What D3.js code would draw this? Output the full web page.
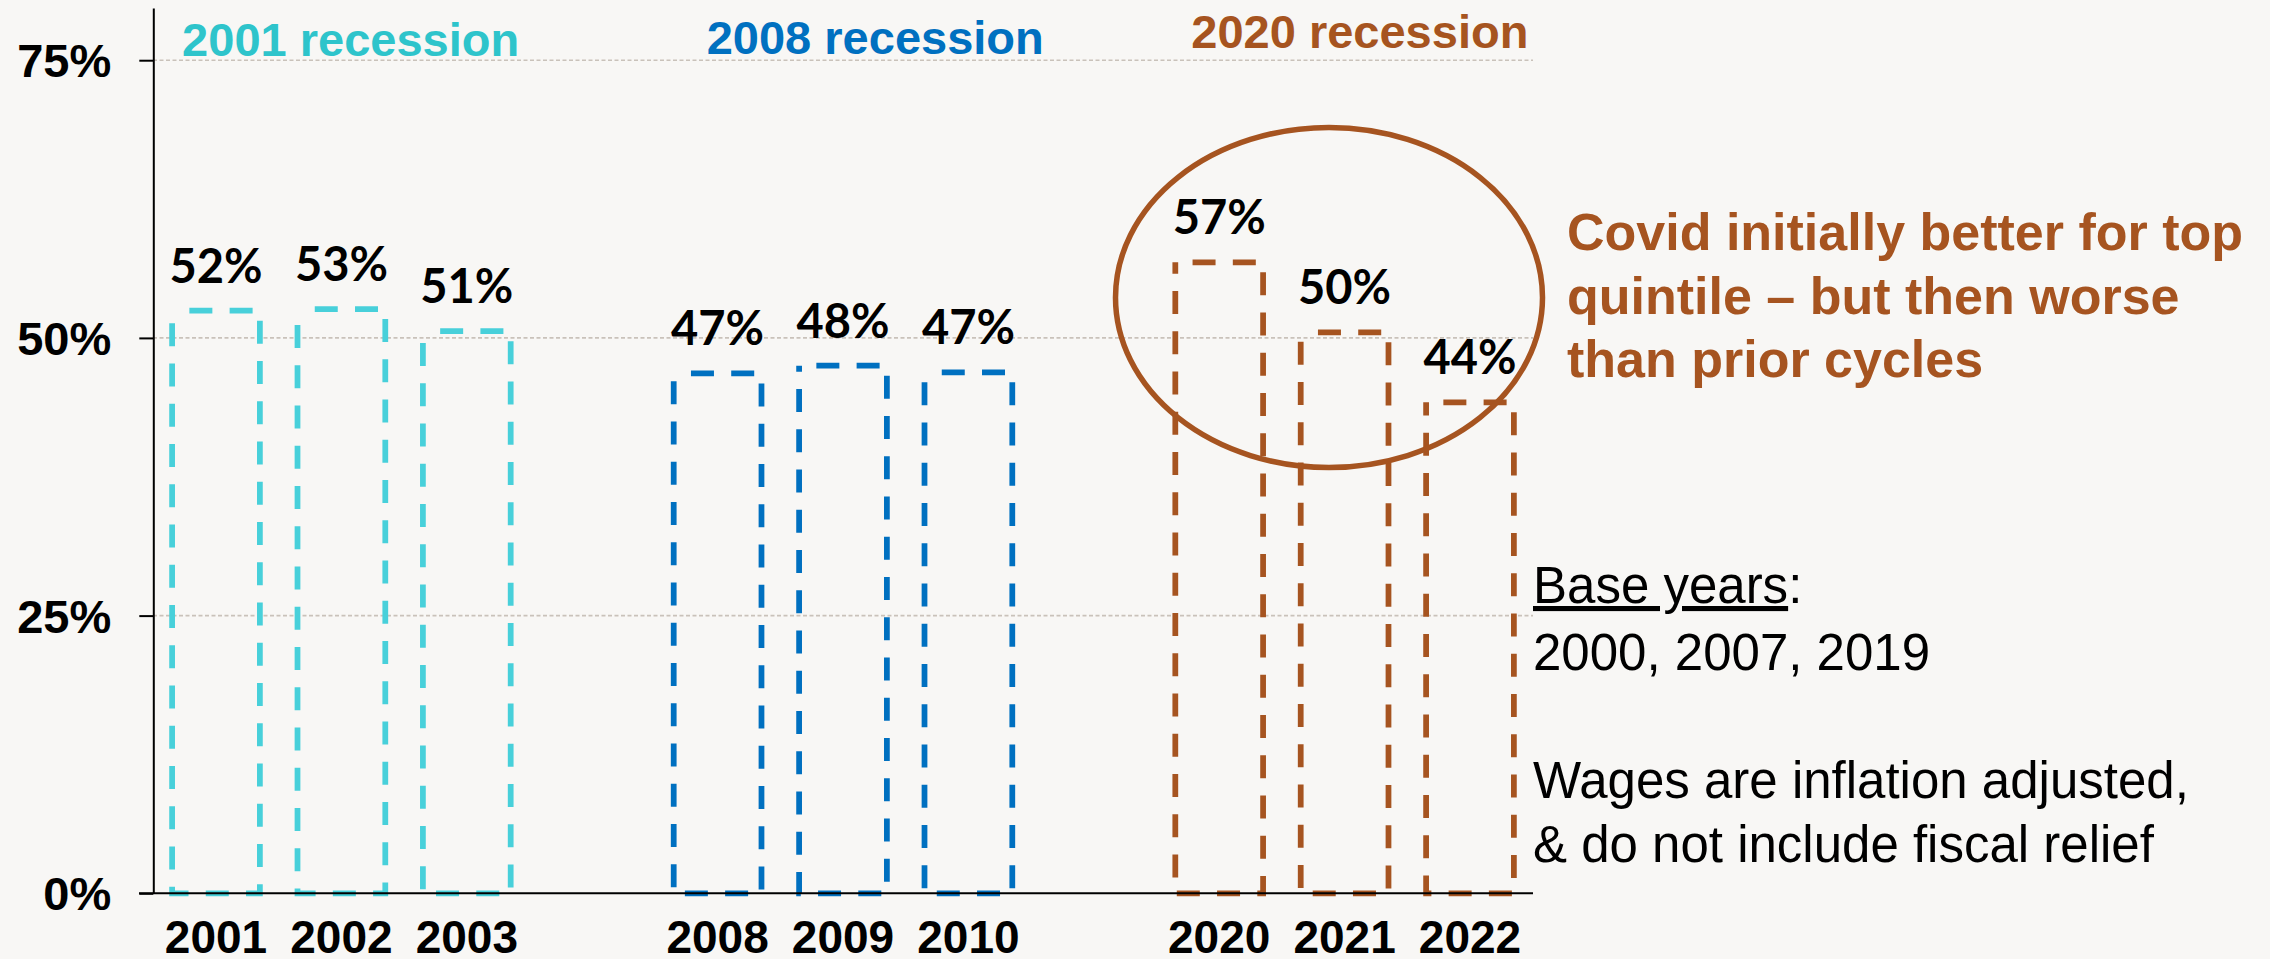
<!DOCTYPE html>
<html><head><meta charset="utf-8">
<script src="https://cdn.jsdelivr.net/npm/d3@7"></script>
<style>
html,body{margin:0;padding:0;background:#F8F7F5;}
svg{display:block;}
</style></head>
<body>
<svg id="chart" width="2270" height="959"></svg>
<script>
// ---- data ----
const slots = ["2001","2002","2003","gapA","2008","2009","2010","gapB","2020","2021","2022"];
const years = ["2001","2002","2003","2008","2009","2010","2020","2021","2022"];
const values = [52.45, 52.6, 50.6, 46.8, 47.5, 46.9, 56.8, 50.5, 44.2];
const labels = ["52%","53%","51%","47%","48%","47%","57%","50%","44%"];
const groups = ["2001","2001","2001","2008","2008","2008","2020","2020","2020"];
const recessionNames = ["2001 recession","2008 recession","2020 recession"];
const recessionAnchor = ["2001","2008","2020"];
const yTicks = [0,25,50,75];
const noteLines = ["Covid initially better for top","quintile \u2013 but then worse","than prior cycles"];

const colors = {"2001":"#48D0DA","2008":"#0070C0","2020":"#A65420"};
const titleColors = {"2001":"#2EC4CB","2008":"#0070C0","2020":"#A65420"};

const svg = d3.select("#chart");
const x = d3.scaleBand().domain(slots).range([153.3,1532.7]).paddingInner(0.3).paddingOuter(0.15);
const y = d3.scaleLinear().domain([0,79.7]).range([893.3,8]);

// gridlines
svg.append("g").selectAll("line").data(yTicks.filter(d=>d>0)).join("line")
  .attr("x1",153).attr("x2",1533).attr("y1",d=>y(d)).attr("y2",d=>y(d))
  .attr("stroke","#C9C2BA").attr("stroke-width",1.6).attr("stroke-dasharray","4,2.5");

// bars
const data = years.map((yr,i)=>({yr, v:values[i], lab:labels[i], g:groups[i]}));
svg.append("g").selectAll("rect").data(data).join("rect")
  .attr("x",d=>x(d.yr)).attr("width",x.bandwidth())
  .attr("y",d=>y(d.v)).attr("height",d=>y(0)-y(d.v))
  .attr("fill","none").attr("stroke",d=>colors[d.g]).attr("stroke-width",5.75)
  .attr("stroke-dasharray","23,17.25").attr("stroke-dashoffset",23);

// data labels
svg.append("g").selectAll("text").data(data).join("text")
  .attr("x",d=>x(d.yr)+x.bandwidth()/2).attr("y",d=>y(d.v)-28)
  .attr("text-anchor","middle").attr("font-family","Lato, 'Open Sans', sans-serif")
  .attr("font-weight",700).attr("font-size",47).attr("fill","#000")
  .text(d=>d.lab);

// y axis
const yAxis = svg.append("g").attr("transform","translate(153.3,0)")
  .call(d3.axisLeft(y).tickValues(yTicks).tickSize(14).tickSizeOuter(0).tickFormat(d=>d+"%").tickPadding(28));
yAxis.select(".domain").attr("stroke","#000").attr("stroke-width",2);
yAxis.selectAll(".tick line").attr("stroke","#000").attr("stroke-width",2);
yAxis.selectAll(".tick text").attr("font-family","'Liberation Sans', Arial, sans-serif")
  .attr("font-weight",700).attr("font-size",47).attr("fill","#000").attr("dy","0.35em");

// x axis
const xAxis = svg.append("g").attr("transform",`translate(0,${y(0)})`)
  .call(d3.axisBottom(x).tickValues(years).tickSize(0).tickSizeOuter(0).tickPadding(27));
xAxis.select(".domain").attr("stroke","#000").attr("stroke-width",2).attr("d","M139,0H1533");
xAxis.selectAll(".tick text").attr("font-family","'Liberation Sans', Arial, sans-serif")
  .attr("font-weight",700).attr("font-size",46).attr("fill","#000").attr("dy","0.71em");

// recession titles
const titleOffsets = [10,33,16];
const titleBase = [56,54,48];
svg.append("g").selectAll("text").data(recessionNames).join("text")
  .attr("x",(d,i)=>x(recessionAnchor[i])+titleOffsets[i]).attr("y",(d,i)=>titleBase[i])
  .attr("font-family","'Liberation Sans', Arial, sans-serif").attr("font-weight",700)
  .attr("font-size",47).attr("fill",(d,i)=>titleColors[recessionAnchor[i]])
  .text(d=>d);

// ellipse highlight
svg.append("ellipse").attr("cx",1329).attr("cy",297.5).attr("rx",213.5).attr("ry",170)
  .attr("fill","none").attr("stroke","#A65420").attr("stroke-width",5.5);

// covid note
const note = svg.append("text").attr("font-family","'Liberation Sans', Arial, sans-serif")
  .attr("font-weight",700).attr("font-size",52).attr("fill","#A65420");
noteLines.forEach((t,i)=>note.append("tspan").attr("x",1567).attr("y",250+i*63.5).text(t));

// base years note
const base = svg.append("text").attr("font-family","'Liberation Sans', Arial, sans-serif")
  .attr("font-size",51).attr("fill","#000");
const l1 = base.append("tspan").attr("x",1533).attr("y",603);
l1.append("tspan").attr("text-decoration","underline").text("Base years");
l1.append("tspan").text(":");
base.append("tspan").attr("x",1533).attr("y",670).text("2000, 2007, 2019");
base.append("tspan").attr("x",1533).attr("y",798).text("Wages are inflation adjusted,");
base.append("tspan").attr("x",1533).attr("y",862).text("& do not include fiscal relief");
</script>
</body></html>
